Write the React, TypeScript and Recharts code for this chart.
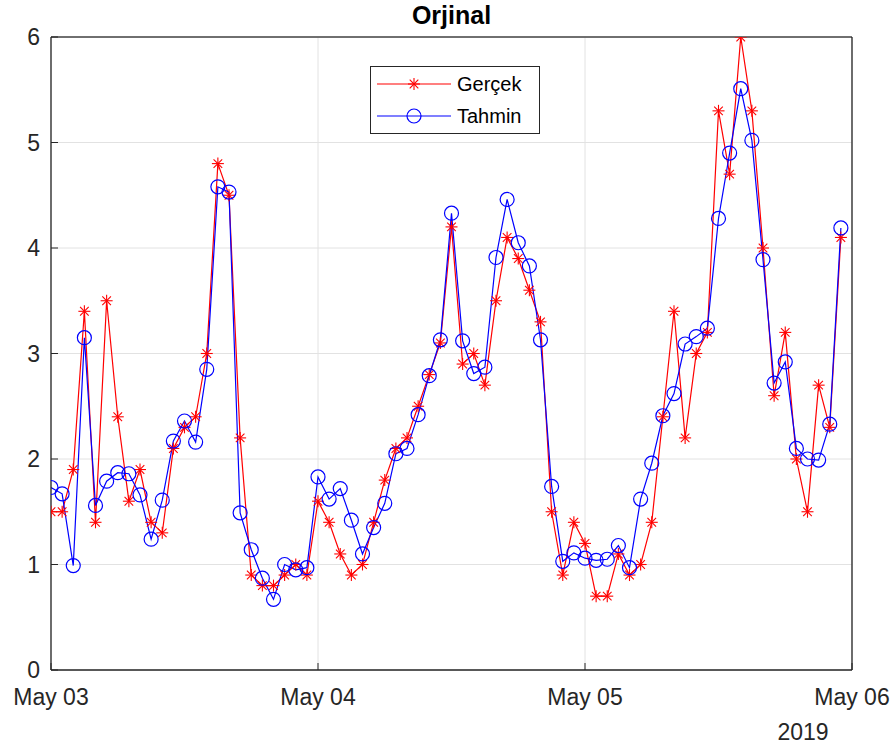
import React from "react";
import { LineChart, Line, XAxis, YAxis, CartesianGrid, Legend } from "recharts";

// saatlik veri: 03 May 2019 00:00 -> 05 May 2019 23:00
const HOURS = Array.from({ length: 72 }, (_, i) => i);

const GERCEK = [
  1.5, 1.5, 1.9, 3.4, 1.4, 3.5, 2.4, 1.6, 1.9, 1.4, 1.3, 2.1,
  2.3, 2.4, 3.0, 4.8, 4.5, 2.2, 0.9, 0.8, 0.8, 0.9, 1.0, 0.9,
  1.6, 1.4, 1.1, 0.9, 1.0, 1.4, 1.8, 2.1, 2.2, 2.5, 2.8, 3.1,
  4.2, 2.9, 3.0, 2.7, 3.5, 4.1, 3.9, 3.6, 3.3, 1.5, 0.9, 1.4,
  1.2, 0.7, 0.7, 1.1, 0.9, 1.0, 1.4, 2.4, 3.4, 2.2, 3.0, 3.2,
  5.3, 4.7, 6.0, 5.3, 4.0, 2.6, 3.2, 2.0, 1.5, 2.7, 2.3, 4.1,
];

const TAHMIN = [
  1.73, 1.67, 0.99, 3.15, 1.56, 1.79, 1.87, 1.86, 1.66, 1.24, 1.61, 2.17,
  2.36, 2.16, 2.85, 4.58, 4.53, 1.49, 1.14, 0.87, 0.67, 1.0, 0.95, 0.97,
  1.83, 1.62, 1.72, 1.42, 1.1, 1.35, 1.58, 2.05, 2.1, 2.42, 2.79, 3.13,
  4.33, 3.12, 2.81, 2.87, 3.91, 4.46, 4.05, 3.83, 3.13, 1.74, 1.03, 1.11,
  1.06, 1.04, 1.05, 1.18, 0.97, 1.62, 1.96, 2.41, 2.62, 3.09, 3.16, 3.24,
  4.28, 4.9, 5.51, 5.02, 3.89, 2.72, 2.92, 2.1, 2.0, 1.99, 2.33, 4.19,
];

const DAY_TICKS = [0, 24, 48, 72];
const DAY_LABELS = ["May 03", "May 04", "May 05", "May 06"];
const Y_TICKS = [0, 1, 2, 3, 4, 5, 6];
const YEAR = "2019";
const TITLE = "Orjinal";

const data = HOURS.map((h, i) => ({ h, gercek: GERCEK[i], tahmin: TAHMIN[i] }));

const FONT = "'Liberation Sans', Arial, Helvetica, sans-serif";
const AX = "#262626";
const RED = "#ff0000";
const BLUE = "#0000ff";

const Asterisk = ({ cx, cy, color, s = 6 }: { cx: number; cy: number; color: string; s?: number }) => {
  const d = s * 0.72;
  return (
    <g stroke={color} strokeWidth={1.1} fill="none">
      <line x1={cx - s} y1={cy} x2={cx + s} y2={cy} />
      <line x1={cx} y1={cy - s} x2={cx} y2={cy + s} />
      <line x1={cx - d} y1={cy - d} x2={cx + d} y2={cy + d} />
      <line x1={cx - d} y1={cy + d} x2={cx + d} y2={cy - d} />
    </g>
  );
};

const SERIES = [
  { key: "gercek", name: "Gerçek", color: RED, marker: "star" },
  { key: "tahmin", name: "Tahmin", color: BLUE, marker: "circle" },
];

const LegendBox = () => (
  <div
    style={{
      width: 170,
      height: 68,
      boxSizing: "border-box",
      border: `1px solid ${AX}`,
      background: "#fff",
      fontFamily: FONT,
      fontSize: 20,
      color: "#000",
      paddingTop: 1,
    }}
  >
    {SERIES.map((s) => (
      <div key={s.key} style={{ display: "flex", alignItems: "center", height: 32 }}>
        <svg width={86} height={32} style={{ flex: "none" }}>
          <line x1={6} y1={16} x2={80} y2={16} stroke={s.color} strokeWidth={1.2} />
          {s.marker === "star" ? (
            <Asterisk cx={43} cy={16} color={s.color} />
          ) : (
            <circle cx={43} cy={16} r={7} stroke={s.color} strokeWidth={1.2} fill="none" />
          )}
        </svg>
        <span>{s.name}</span>
      </div>
    ))}
  </div>
);

const TitleLabel = (props: any) => {
  const vb = props.viewBox || { x: 51, y: 37, width: 800, height: 1 };
  return (
    <text x={vb.x + vb.width / 2} y={vb.y + vb.height - 14} textAnchor="middle" fontFamily={FONT} fontSize={25} fontWeight="bold" fill="#000">
      {TITLE}
    </text>
  );
};

const YearLabel = (props: any) => {
  const vb = props.viewBox || { x: 51, y: 670, width: 800 };
  return (
    <text x={vb.x + vb.width - 49} y={vb.y + 70} textAnchor="middle" fontFamily={FONT} fontSize={23} fill={AX}>
      {YEAR}
    </text>
  );
};

export default function App() {
  return (
    <div style={{ position: "absolute", left: 0, top: 0, width: 895, height: 751, background: "#fff", fontFamily: FONT }}>
      <LineChart width={895} height={751} data={data} margin={{ top: 37, right: 43, bottom: 0, left: 0 }}>
        <CartesianGrid xAxisId="b" yAxisId="l" stroke="#e2e2e2" strokeWidth={1} />
        <XAxis
          xAxisId="b"
          dataKey="h"
          type="number"
          domain={[0, 72]}
          ticks={DAY_TICKS}
          interval={0}
          allowDataOverflow
          height={81}
          tickSize={-7}
          tickMargin={26}
          tickFormatter={(v: number) => DAY_LABELS[DAY_TICKS.indexOf(v)] ?? ""}
          axisLine={{ stroke: AX, strokeWidth: 1.3 }}
          tickLine={{ stroke: AX }}
          tick={{ fill: AX, fontSize: 23, fontFamily: FONT }}
          label={<YearLabel />}
        />
        <XAxis
          xAxisId="t"
          orientation="top"
          dataKey="h"
          type="number"
          domain={[0, 72]}
          ticks={DAY_TICKS}
          interval={0}
          allowDataOverflow
          height={1}
          mirror
          tickSize={7}
          tick={false}
          axisLine={{ stroke: "#444", strokeWidth: 1.5 }}
          tickLine={{ stroke: AX }}
          label={<TitleLabel />}
        />
        <YAxis
          yAxisId="l"
          type="number"
          domain={[0, 6]}
          ticks={Y_TICKS}
          interval={0}
          allowDataOverflow
          width={51}
          tickSize={-7}
          tickMargin={18}
          axisLine={{ stroke: AX, strokeWidth: 1.3 }}
          tickLine={{ stroke: AX }}
          tick={{ fill: AX, fontSize: 23, fontFamily: FONT }}
        />
        <YAxis
          yAxisId="r"
          orientation="right"
          type="number"
          domain={[0, 6]}
          ticks={Y_TICKS}
          interval={0}
          allowDataOverflow
          width={1}
          mirror
          tickSize={7}
          tick={false}
          axisLine={{ stroke: AX, strokeWidth: 1.3 }}
          tickLine={{ stroke: AX }}
        />
        {/* görünmez seri: üst ve sağ eksenlerin (kutu çerçevesi) çizilmesi için */}
        <Line
          xAxisId="t"
          yAxisId="r"
          dataKey="tahmin"
          stroke="transparent"
          dot={false}
          activeDot={false}
          legendType="none"
          isAnimationActive={false}
        />
        <Line
          xAxisId="b"
          yAxisId="l"
          type="linear"
          dataKey="gercek"
          name="Gerçek"
          stroke={RED}
          strokeWidth={1.2}
          isAnimationActive={false}
          dot={(p: any) => <Asterisk key={`g-${p.index}`} cx={p.cx} cy={p.cy} color={RED} />}
          activeDot={false}
        />
        <Line
          xAxisId="b"
          yAxisId="l"
          type="linear"
          dataKey="tahmin"
          name="Tahmin"
          stroke={BLUE}
          strokeWidth={1.2}
          isAnimationActive={false}
          dot={(p: any) => (
            <circle key={`t-${p.index}`} cx={p.cx} cy={p.cy} r={7} stroke={BLUE} strokeWidth={1.2} fill="none" />
          )}
          activeDot={false}
        />
        <Legend
          layout="horizontal"
          verticalAlign="middle"
          align="center"
          content={() => <LegendBox />}
          wrapperStyle={{ position: "absolute", left: 370, top: 66, width: 170, height: 68 }}
        />
      </LineChart>
    </div>
  );
}
